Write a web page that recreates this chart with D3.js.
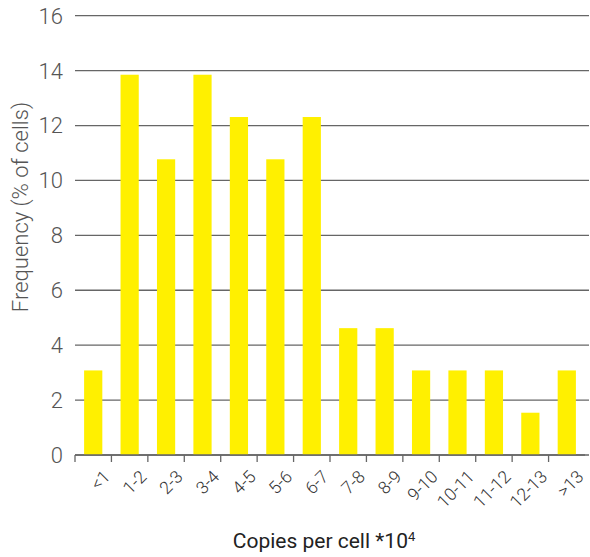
<!DOCTYPE html>
<html><head><meta charset="utf-8">
<script src="https://cdn.jsdelivr.net/npm/d3@7"></script>
<style>body{margin:0;background:#fff}svg{display:block}text{font-family:Roboto,"DejaVu Sans Condensed",sans-serif}</style>
</head><body><svg id="c" width="590" height="557"></svg>
<script>
const categories = ["<1","1-2","2-3","3-4","4-5","5-6","6-7","7-8","8-9","9-10","10-11","11-12","12-13",">13"];
const frequency = [3.08,13.85,10.77,13.85,12.31,10.77,12.31,4.62,4.62,3.08,3.08,3.08,1.54,3.08];
const yTicks = [0,2,4,6,8,10,12,14,16];

const svg = d3.select("#c");
const x = d3.scaleBand().domain(categories).range([75,585]).paddingInner(0.5).paddingOuter(0.25);
const y = d3.scaleLinear().domain([0,16]).range([455,15.7]);

// gridlines
svg.append("g").selectAll("line").data(yTicks).join("line")
  .attr("x1",75).attr("x2",589).attr("y1",d=>y(d)).attr("y2",d=>y(d))
  .attr("stroke","#666").attr("stroke-width",1.3);

// bars
svg.append("g").selectAll("rect").data(frequency).join("rect")
  .attr("x",(d,i)=>x(categories[i])).attr("width",x.bandwidth())
  .attr("y",d=>y(d)).attr("height",d=>y(0)-y(d)).attr("fill","#FFF000");

// y labels
svg.append("g").selectAll("text").data(yTicks).join("text")
  .attr("x",63).attr("y",d=>y(d)).attr("dy","0.36em").attr("text-anchor","end")
  .attr("font-size",22).attr("font-weight",300).attr("fill","#555").text(d=>d);

// x axis
const xa = svg.append("g");
xa.append("line").attr("x1",75).attr("x2",585).attr("y1",y(0)).attr("y2",y(0)).attr("stroke","#666").attr("stroke-width",1.3);
xa.selectAll("line.t").data(categories).join("line").attr("class","t")
  .attr("x1",d=>x(d)-x.bandwidth()/2).attr("x2",d=>x(d)-x.bandwidth()/2)
  .attr("y1",y(0)).attr("y2",y(0)+7).attr("stroke","#666").attr("stroke-width",1.3);
xa.selectAll("text").data(categories).join("text")
  .attr("transform",d=>`translate(${x(d)+x.bandwidth()/2+9},${y(0)+14}) rotate(-45)`)
  .attr("text-anchor","end").attr("dy","0.72em").attr("font-size",17.5).attr("font-weight",300).attr("fill","#333").text(d=>d);

// titles
const t = svg.append("text").attr("x",324).attr("y",548).attr("text-anchor","middle").attr("font-size",21).attr("fill","#222").attr("font-weight",400);
t.append("tspan").text("Copies per cell *10");
t.append("tspan").attr("dy","-0.55em").attr("font-size",13).text("4");
svg.append("text").attr("transform","translate(28,207) rotate(-90)").attr("text-anchor","middle")
  .attr("font-size",22).attr("font-weight",300).attr("fill","#555").text("Frequency (% of cells)");
</script></body></html>
